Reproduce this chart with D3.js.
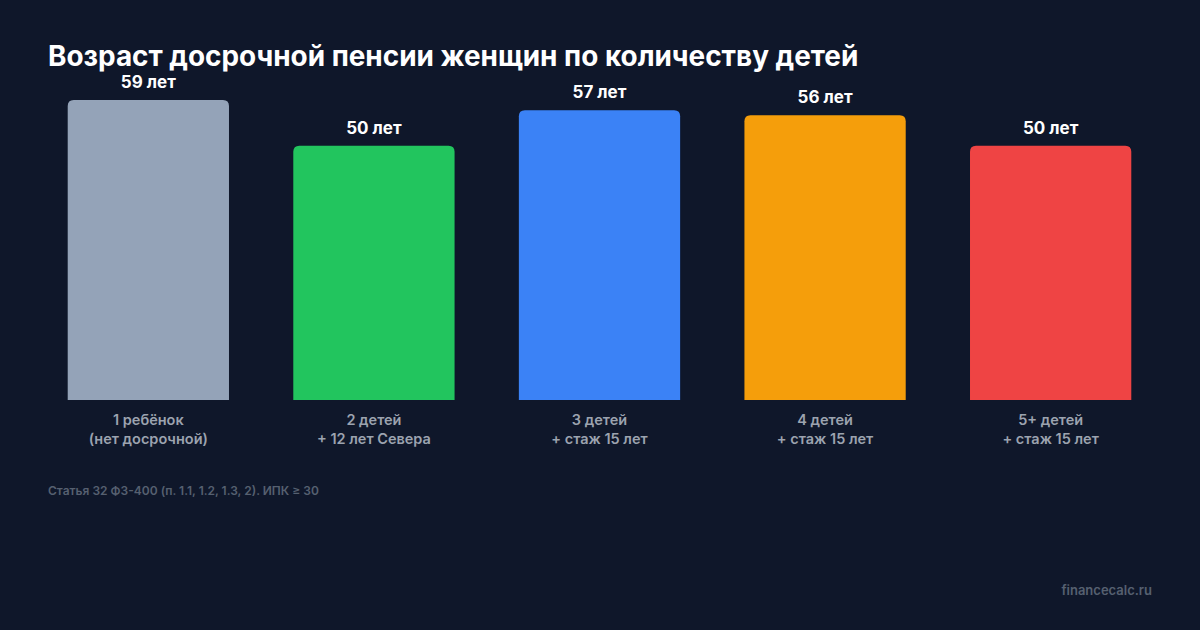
<!DOCTYPE html>
<html><head><meta charset="utf-8">
<script src="https://cdn.jsdelivr.net/npm/d3@7"></script>
<style>body{margin:0;background:#0f172a}</style></head>
<body><svg id="c" width="1200" height="630"></svg>
<script>
const categories = [["1 ребёнок","(нет досрочной)"],["2 детей","+ 12 лет Севера"],["3 детей","+ стаж 15 лет"],["4 детей","+ стаж 15 лет"],["5+ детей","+ стаж 15 лет"]];
const values = [59, 50, 57, 56, 50];
const valueLabels = ["59 лет","50 лет","57 лет","56 лет","50 лет"];
const colors = ["#94a3b8","#22c55e","#3b82f6","#f59e0b","#ef4444"];

const svg = d3.select("#c");
const font = "Inter, 'Noto Sans', sans-serif";
svg.append("rect").attr("width",1200).attr("height",630).attr("fill","#0f172a");
svg.append("text").attr("x",48).attr("y",66).attr("fill","#fff").attr("font-family",font)
  .attr("font-weight",700).attr("font-size",27.9).text("Возраст досрочной пенсии женщин по количеству детей");

const x = d3.scaleBand().domain(d3.range(values.length)).range([35,1164]).paddingInner(0.285).paddingOuter(0.145);
const y = d3.scaleLinear().domain([0,59]).range([400,100]);
const r = 6;
const g = svg.append("g");
values.forEach((v,i)=>{
  const x0=x(i), w=x.bandwidth(), y0=y(v), b=y(0);
  g.append("path").attr("fill",colors[i])
   .attr("d",`M${x0},${b}V${y0+r}Q${x0},${y0} ${x0+r},${y0}H${x0+w-r}Q${x0+w},${y0} ${x0+w},${y0+r}V${b}Z`);
  g.append("text").attr("x",x0+w/2).attr("y",y0-12).attr("text-anchor","middle").attr("fill","#fff")
   .attr("font-family",font).attr("font-weight",700).attr("font-size",17).text(valueLabels[i]);
  categories[i].forEach((t,j)=>{
    g.append("text").attr("x",x0+w/2).attr("y",425+j*19).attr("text-anchor","middle").attr("fill","#9ca3af")
     .attr("font-family",font).attr("font-weight",600).attr("font-size",14.5).text(t);
  });
});
svg.append("text").attr("x",48).attr("y",495).attr("fill","#566070").attr("font-family",font)
  .attr("font-weight",600).attr("font-size",12).text("Статья 32 ФЗ-400 (п. 1.1, 1.2, 1.3, 2). ИПК ≥ 30");
svg.append("text").attr("x",1152).attr("y",595).attr("text-anchor","end").attr("fill","#566070").attr("font-family",font)
  .attr("font-weight",600).attr("font-size",13).text("financecalc.ru");
</script></body></html>
